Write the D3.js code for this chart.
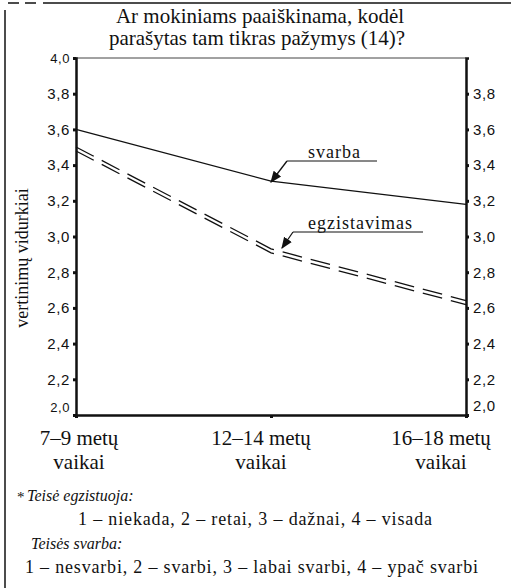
<!DOCTYPE html>
<html lang="lt">
<head>
<meta charset="UTF-8">
<title>Ar mokiniams paaiškinama, kodėl parašytas tam tikras pažymys</title>
<script src="https://d3js.org/d3.v7.min.js"></script>
<style>
  body { margin: 0; background: #fff; }
  svg text { fill: #111; }
</style>
</head>
<body>
<svg width="511" height="588"></svg>
<script>
// data
var groups = ["7–9 metų|vaikai", "12–14 metų|vaikai", "16–18 metų|vaikai"];
var svarba = [3.6, 3.31, 3.18];
var egzistavimas = [3.49, 2.92, 2.63];
var yTicks = [2.0, 2.2, 2.4, 2.6, 2.8, 3.0, 3.2, 3.4, 3.6, 3.8, 4.0];

var svg = d3.select("svg");
var serif = "'Liberation Serif', 'DejaVu Serif', serif";
var sans = "'Liberation Sans', Arial, sans-serif";

var x = d3.scalePoint().domain(groups).range([76, 466]);
var y = d3.scaleLinear().domain([2.0, 4.0]).range([415, 58]);
var fmt = d => d3.format(".1f")(d).replace(".", ",");

// page frame (scan edge)
svg.append("line").attr("x1", 5).attr("x2", 5).attr("y1", 10).attr("y2", 588)
    .attr("stroke", "#111").attr("stroke-width", 1.5);
svg.append("line").attr("x1", 43).attr("x2", 511).attr("y1", 3).attr("y2", 3)
    .attr("stroke", "#111").attr("stroke-width", 1.5);
svg.append("line").attr("x1", 8).attr("x2", 38).attr("y1", 3).attr("y2", 3)
    .attr("stroke", "#111").attr("stroke-width", 1.5).attr("stroke-dasharray", "11,6");

// title
svg.append("text").attr("x", 260).attr("y", 23).attr("text-anchor", "middle")
    .style("font-family", serif).style("font-size", "21px")
    .text("Ar mokiniams paaiškinama, kodėl");
svg.append("text").attr("x", 257).attr("y", 45).attr("text-anchor", "middle")
    .style("font-family", serif).style("font-size", "21px")
    .text("parašytas tam tikras pažymys (14)?");

// top frame line of the plot
svg.append("line").attr("x1", x.range()[0]).attr("x2", x.range()[1])
    .attr("y1", y(4.0)).attr("y2", y(4.0)).attr("stroke", "#444").attr("stroke-width", 1);

// left and right axes
var left = svg.append("g").attr("transform", "translate(76,0)")
    .call(d3.axisLeft(y).tickValues(yTicks).tickSize(3).tickPadding(3).tickFormat(fmt));
var right = svg.append("g").attr("transform", "translate(466,0)")
    .call(d3.axisRight(y).tickValues(yTicks.slice(0, -1)).tickSize(3).tickPadding(4).tickFormat(fmt));
[left, right].forEach(g => {
  g.select(".domain").attr("stroke", "#111").attr("stroke-width", 2.5);
  g.selectAll(".tick line").attr("stroke", "#111").attr("stroke-width", 3);
  g.selectAll(".tick text").style("font-family", sans).style("font-size", "15px")
      .style("letter-spacing", "0.6px").attr("fill", "#111");
});
// squeezed end labels like in the original
left.selectAll(".tick text").filter(d => d === 2.0).attr("dy", "-0.3em").style("font-size", "13px");
right.selectAll(".tick text").filter(d => d === 2.0).attr("dy", "-0.3em");
left.selectAll(".tick text").filter(d => d === 4.0).style("font-size", "13px");

// bottom axis
var bottom = svg.append("g").attr("transform", "translate(0," + y(2.0) + ")")
    .call(d3.axisBottom(x).tickSize(3).tickPadding(0).tickFormat(""));
bottom.select(".domain").attr("stroke", "#111").attr("stroke-width", 2.5);
bottom.selectAll(".tick line").attr("stroke", "#111").attr("stroke-width", 3);

// category labels (two lines)
var catLabel = svg.append("g").selectAll("text").data(groups).join("text")
    .attr("text-anchor", "middle")
    .style("font-family", serif).style("font-size", "21px")
    .attr("transform", (d, i) => "translate(" + (x(d) + [3, -10, -25][i]) + "," + (y(2.0) + 30) + ")");
catLabel.append("tspan").attr("x", 0).attr("y", 0).text(d => d.split("|")[0]);
catLabel.append("tspan").attr("x", 0).attr("y", 24).text(d => d.split("|")[1]);

// y axis title
svg.append("text").attr("transform", "translate(28,258) rotate(-90)")
    .attr("text-anchor", "middle").style("font-family", serif).style("font-size", "18px")
    .text("vertinimų vidurkiai");

// lines
var line = d3.line().x((d, i) => x(groups[i])).y(d => y(d));
svg.append("path").datum(svarba).attr("d", line)
    .attr("fill", "none").attr("stroke", "#111").attr("stroke-width", 1.3);
[-2, 2].forEach(off => {
  svg.append("path").datum(egzistavimas).attr("d", line)
      .attr("transform", "translate(0," + off + ")")
      .attr("fill", "none").attr("stroke", "#111").attr("stroke-width", 1.3)
      .attr("stroke-dasharray", "20,9");
});

// annotations with arrows
svg.append("defs").append("marker").attr("id", "arr")
    .attr("viewBox", "0 0 10 10").attr("refX", 9).attr("refY", 5)
    .attr("markerWidth", 9).attr("markerHeight", 9).attr("orient", "auto")
    .append("path").attr("d", "M0,1 L10,5 L0,9 Z").attr("fill", "#111");

function note(label, tx, ty, ux1, ux2, tipX, tipY) {
  svg.append("text").attr("x", tx).attr("y", ty)
      .style("font-family", serif).style("font-size", "18px").style("letter-spacing", "1px")
      .text(label);
  svg.append("line").attr("x1", ux1).attr("x2", ux2).attr("y1", ty + 3).attr("y2", ty + 3)
      .attr("stroke", "#111").attr("stroke-width", 1);
  svg.append("line").attr("x1", ux1).attr("y1", ty + 3).attr("x2", tipX).attr("y2", tipY)
      .attr("stroke", "#111").attr("stroke-width", 1.3).attr("marker-end", "url(#arr)");
}
note("svarba", 308, 158, 287, 377, 271, 182);
note("egzistavimas", 308, 229, 293, 423, 282, 248);

// footnotes
svg.append("text").attr("x", 17).attr("y", 502)
    .style("font-family", serif).style("font-size", "15px").text("*");
var foot = [
  {it: "Teisė egzistuoja:", x: 27, y: 501},
  {t: "1 – niekada, 2 – retai, 3 – dažnai, 4 – visada", x: 78, y: 525, w: 354},
  {it: "Teisės svarba:", x: 31, y: 549},
  {t: "1 – nesvarbi, 2 – svarbi, 3 – labai svarbi, 4 – ypač svarbi", x: 25, y: 573, w: 453}
];
foot.forEach(f => {
  var t = svg.append("text").attr("x", f.x).attr("y", f.y).style("font-family", serif);
  if (f.it) t.style("font-style", "italic").style("font-size", "16px").text(f.it);
  else t.attr("textLength", f.w).attr("lengthAdjust", "spacing").style("font-size", "18px").text(f.t);
});
</script>
</body>
</html>
